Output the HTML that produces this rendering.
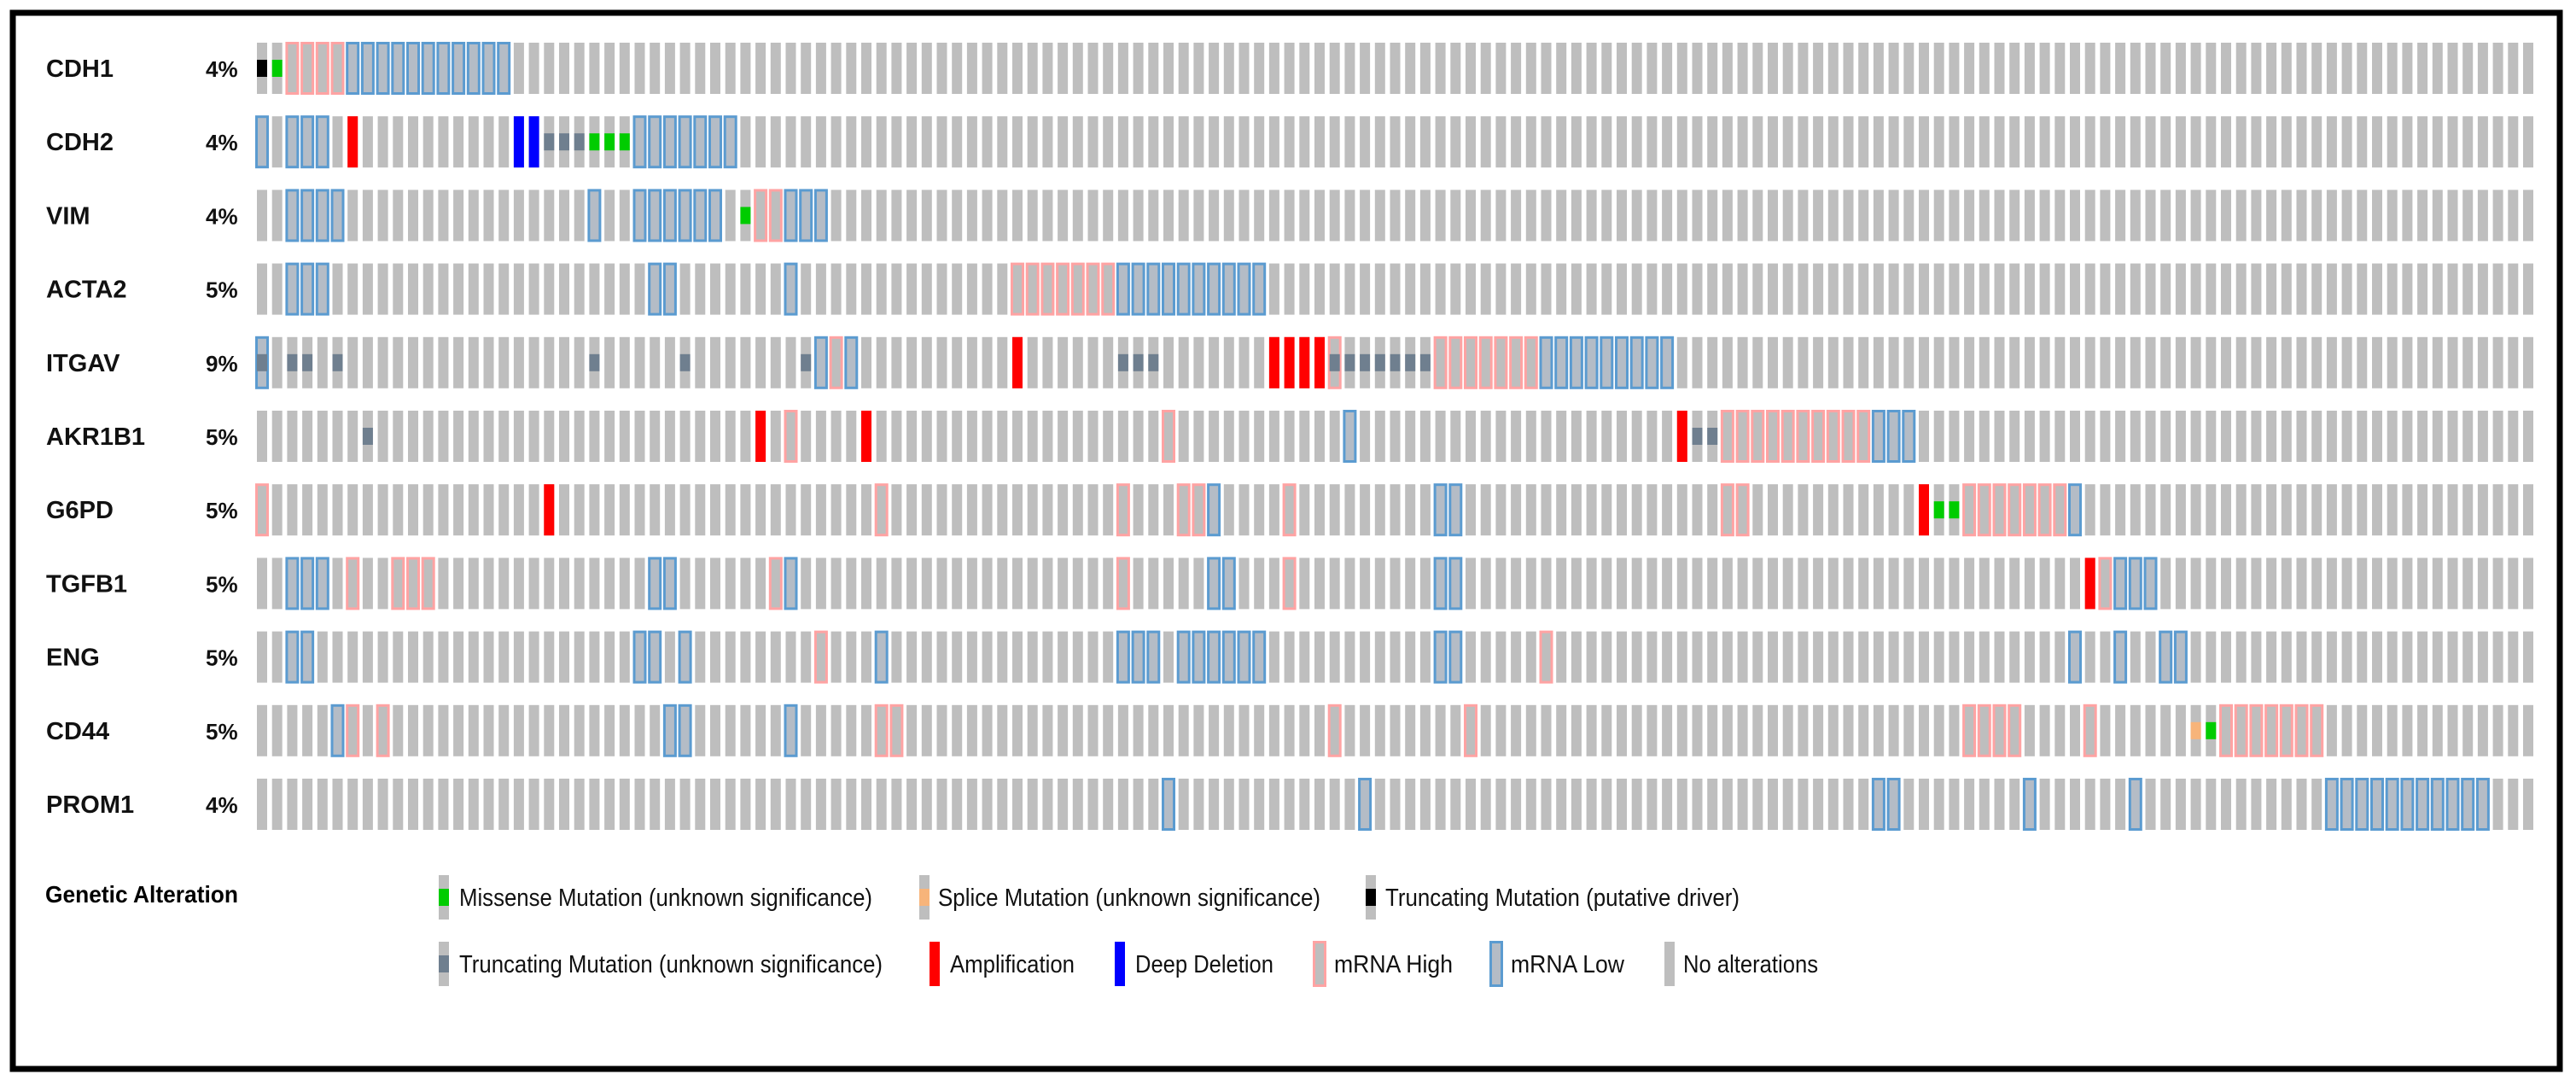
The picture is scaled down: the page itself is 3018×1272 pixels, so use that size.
<!DOCTYPE html>
<html><head><meta charset="utf-8"><style>
html,body{margin:0;padding:0;background:#fff}
svg{display:block}
text{font-family:"Liberation Sans",Arial,sans-serif}
</style></head><body>
<svg id="chart" width="3018" height="1272" viewBox="0 0 3018 1272" xmlns="http://www.w3.org/2000/svg">
<rect x="15" y="15" width="2984" height="1237" fill="#fff" stroke="#000" stroke-width="7"/>
<g id="rows"></g>
<g id="legend">
<text x="53" y="1057" font-size="28" font-weight="bold" textLength="226" lengthAdjust="spacingAndGlyphs">Genetic Alteration</text>
</g>
</svg>
<script>
const genes = ['CDH1','CDH2','VIM','ACTA2','ITGAV','AKR1B1','G6PD','TGFB1','ENG','CD44','PROM1'];
const pcts = ['4%','4%','4%','5%','9%','5%','5%','5%','5%','5%','4%'];
const nCols = 151;
// alteration lists: [startCol, endCol, type]
const cdh1 = [[0,0,'TRP'],[1,1,'MIS'],[2,5,'HIGH'],[6,16,'LOW']];
const cdh2 = [[0,0,'LOW'],[2,4,'LOW'],[6,6,'AMP'],[17,18,'DEL'],[19,21,'TRU'],[22,24,'MIS'],[25,31,'LOW']];
const vim = [[2,5,'LOW'],[22,22,'LOW'],[25,30,'LOW'],[32,32,'MIS'],[33,34,'HIGH'],[35,37,'LOW']];
const acta2 = [[2,4,'LOW'],[26,27,'LOW'],[35,35,'LOW'],[50,56,'HIGH'],[57,66,'LOW']];
const itgav = [[0,0,'LOW'],[0,0,'TRU'],[2,3,'TRU'],[5,5,'TRU'],[22,22,'TRU'],[28,28,'TRU'],[36,36,'TRU'],[37,37,'LOW'],[38,38,'HIGH'],[39,39,'LOW'],[50,50,'AMP'],[57,59,'TRU'],[67,70,'AMP'],[71,71,'HIGH'],[71,77,'TRU'],[78,84,'HIGH'],[85,93,'LOW']];
const akr1b1 = [[7,7,'TRU'],[33,33,'AMP'],[35,35,'HIGH'],[40,40,'AMP'],[60,60,'HIGH'],[72,72,'LOW'],[94,94,'AMP'],[95,96,'TRU'],[97,106,'HIGH'],[107,109,'LOW']];
const g6pd = [[0,0,'HIGH'],[19,19,'AMP'],[41,41,'HIGH'],[57,57,'HIGH'],[61,62,'HIGH'],[63,63,'LOW'],[68,68,'HIGH'],[78,79,'LOW'],[97,98,'HIGH'],[110,110,'AMP'],[111,112,'MIS'],[113,119,'HIGH'],[120,120,'LOW']];
const tgfb1 = [[2,4,'LOW'],[6,6,'HIGH'],[9,11,'HIGH'],[26,27,'LOW'],[34,34,'HIGH'],[35,35,'LOW'],[57,57,'HIGH'],[63,64,'LOW'],[68,68,'HIGH'],[78,79,'LOW'],[121,121,'AMP'],[122,122,'HIGH'],[123,125,'LOW']];
const eng = [[2,3,'LOW'],[25,26,'LOW'],[28,28,'LOW'],[37,37,'HIGH'],[41,41,'LOW'],[57,59,'LOW'],[61,66,'LOW'],[78,79,'LOW'],[85,85,'HIGH'],[120,120,'LOW'],[123,123,'LOW'],[126,127,'LOW']];
const cd44 = [[5,5,'LOW'],[6,6,'HIGH'],[8,8,'HIGH'],[27,28,'LOW'],[35,35,'LOW'],[41,42,'HIGH'],[71,71,'HIGH'],[80,80,'HIGH'],[113,116,'HIGH'],[121,121,'HIGH'],[128,128,'SPL'],[129,129,'MIS'],[130,136,'HIGH']];
const prom1 = [[60,60,'LOW'],[73,73,'LOW'],[107,108,'LOW'],[117,117,'LOW'],[124,124,'LOW'],[137,147,'LOW']];
const geneAlts = [cdh1,cdh2,vim,acta2,itgav,akr1b1,g6pd,tgfb1,eng,cd44,prom1];

const NS='http://www.w3.org/2000/svg';
const X0=301, PITCH=17.7, BW=12, Y0=50, RP=86.2, BH=60;
function xScale(c){return X0+c*PITCH;}
function yScale(r){return Y0+r*RP;}
const GRAY='#bebebe', PINK='#ffa3a3', BLUE='#5b9bd0', RED='#ff0000', DBLUE='#0000ff', GREEN='#00cc00', TRUC='#6f7f8f', BLACK='#000', ORANGE='#f7b47a';
function mk(tag,attrs,parent){const e=document.createElementNS(NS,tag);for(const k in attrs)e.setAttribute(k,attrs[k]);parent.appendChild(e);return e;}
function drawMark(g,type,x,y,h){
  let e;
  if(type==='HIGH'||type==='LOW'){
    e=mk('rect',{x:x-0.5,y:y+0.5,width:BW+1,height:h-1,fill:type==='LOW'?'#b4bcc6':GRAY,stroke:type==='LOW'?BLUE:PINK,'stroke-width':3},g);
  } else if(type==='AMP'||type==='DEL'){
    e=mk('rect',{x:x,y:y,width:BW,height:h,fill:type==='AMP'?RED:DBLUE},g);
  } else {
    const col={MIS:GREEN,TRU:TRUC,TRP:BLACK,SPL:ORANGE}[type];
    e=mk('rect',{x:x,y:y+h/2-10,width:BW,height:20,fill:col},g);
  }
  return e;
}
const rows=document.getElementById('rows');
genes.forEach((gname,r)=>{
  const g=mk('g',{},rows);
  
  
  const y=yScale(r);
  const lab=mk('text',{x:54,y:y+BH/2+10,'font-size':29,'font-weight':'bold',fill:'#111'},g);
  lab.textContent=gname;
  
  
  const pt=mk('text',{x:241,y:y+BH/2+10,'font-size':26,'font-weight':'bold',fill:'#111'},g);
  pt.textContent=pcts[r];
  
  
  for(let c=0;c<nCols;c++){
    const b=mk('rect',{x:xScale(c),y:y,width:BW,height:BH,fill:GRAY},g);
    
    
  }
  const alts=geneAlts[r];
  const order={HIGH:0,LOW:0,AMP:1,DEL:1,MIS:2,TRU:2,TRP:2,SPL:2};
  alts.slice().sort((a,b)=>order[a[2]]-order[b[2]]).forEach(a=>{
    for(let c=a[0];c<=a[1];c++){
      const m=drawMark(g,a[2],xScale(c),y,BH);
      
      
    }
  });
});
// legend
const legendItems=[
  ['MIS','Missense Mutation (unknown significance)',514,538,484,0],
  ['SPL','Splice Mutation (unknown significance)',1077,1099,448,0],
  ['TRP','Truncating Mutation (putative driver)',1600,1623,415,0],
  ['TRU','Truncating Mutation (unknown significance)',514,538,496,1],
  ['AMP','Amplification',1089,1113,146,1],
  ['DEL','Deep Deletion',1306,1330,162,1],
  ['HIGH','mRNA High',1540,1563,139,1],
  ['LOW','mRNA Low',1747,1770,133,1],
  ['NONE','No alterations',1950,1972,158,1]
];
const leg=document.getElementById('legend');
legendItems.forEach(it=>{
  const g=mk('g',{},leg);
  
  
  const sy=it[5]===0?1025:1103;
  mk('rect',{x:it[2],y:sy,width:BW,height:52,fill:GRAY},g);
  if(it[0]!=='NONE') drawMark(g,it[0],it[2],sy,52);
  const t=mk('text',{x:it[3],y:sy+36,'font-size':29,fill:'#111',textLength:it[4],lengthAdjust:'spacingAndGlyphs'},g);
  t.textContent=it[1];
});
</script>
</body></html>
